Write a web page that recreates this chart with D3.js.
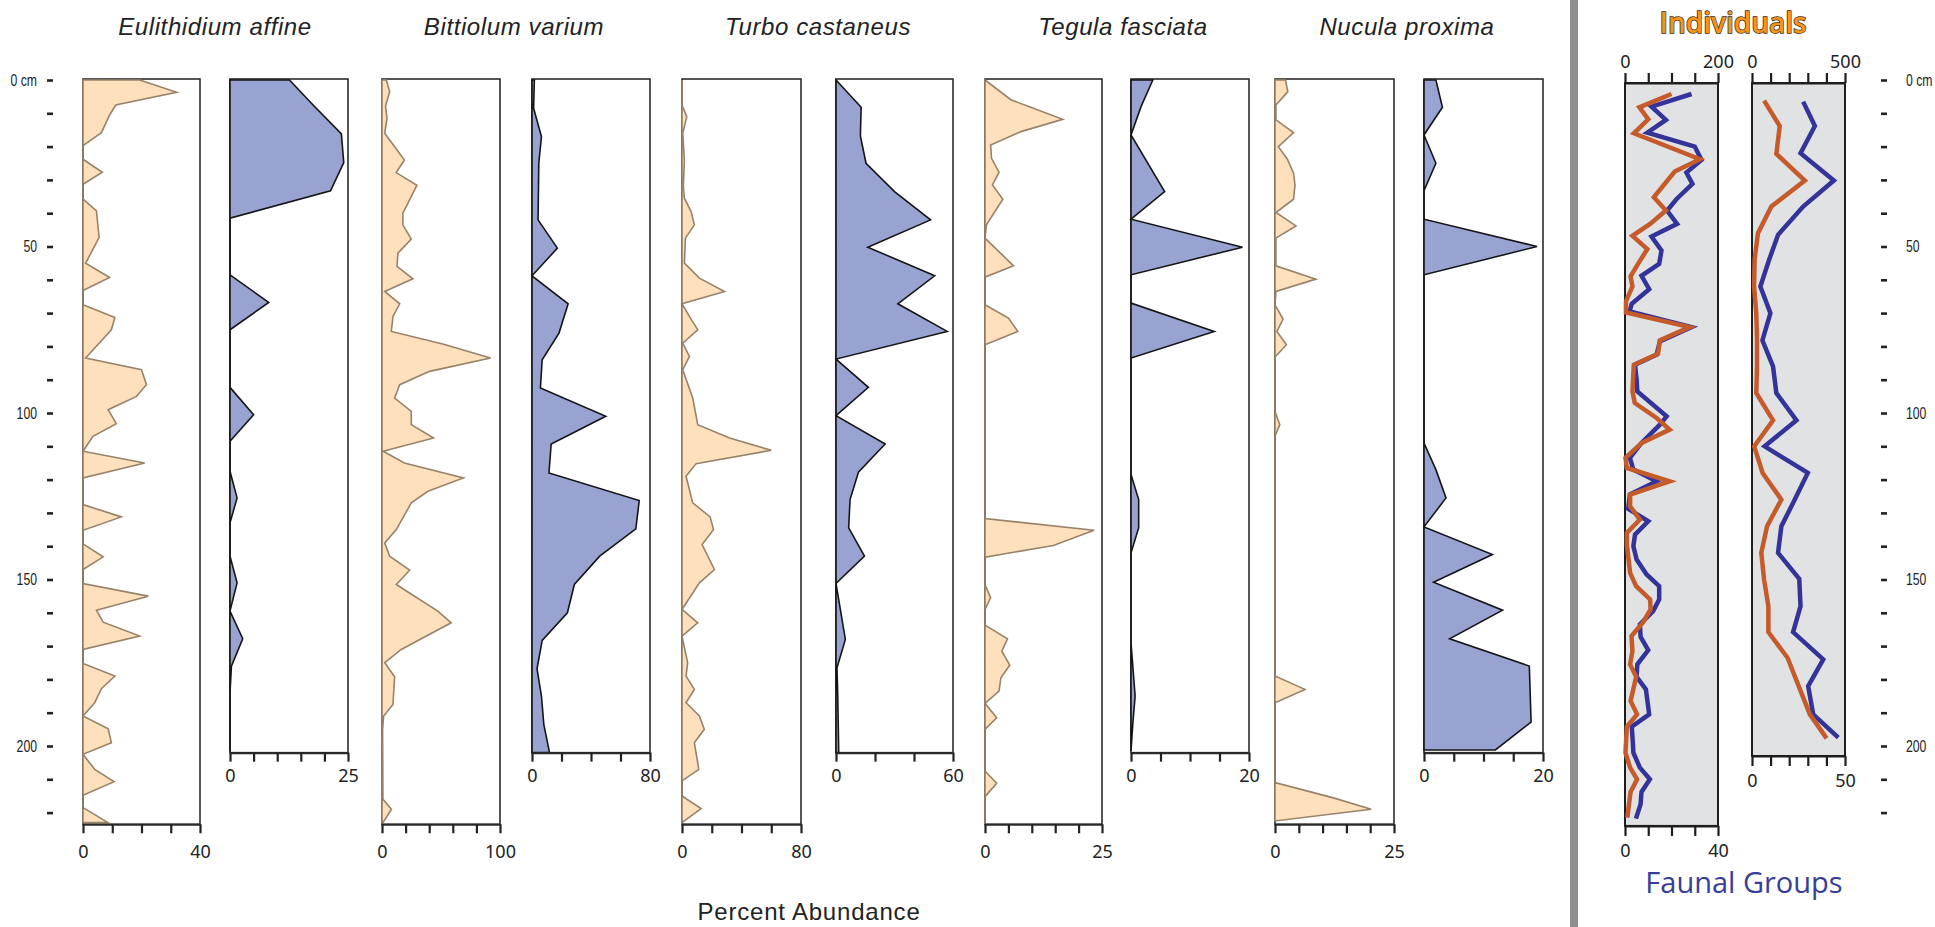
<!DOCTYPE html>
<html>
<head>
<meta charset="utf-8">
<script src="https://cdn.jsdelivr.net/npm/d3@7"></script>
<style>
  body { margin: 0; background: #fff; }
  svg { display: block; }
  .tick text { font-family: "Noto Sans", "Open Sans", sans-serif; font-size: 18px; fill: #222; }
  .depth .tick text { font-family: "Liberation Sans", Arial, sans-serif; font-size: 17px; }
</style>
</head>
<body>
<div id="chart"></div>
<script>
// depth (cm), value pairs
const eulOrange = [[0,19.4],[3.7,32],[7.5,11.2],[10.5,9.1],[15.8,6.3],[19.7,0],[23.8,0],[27.7,6.6],[31.3,0],[35.8,0],[39.3,4.6],[47.3,5.5],[55,0.9],[59.3,9.1],[63.2,0],[67.5,0],[71.3,10.9],[75,9.7],[83.5,0.9],[87,20],[91.5,21.7],[95,18.3],[99,8.6],[103.2,11.4],[107,3.4],[111.5,0],[115,21.1],[119.5,0],[127.5,0],[131.2,13.1],[135.2,0],[139.3,0],[143.2,6.9],[147,0],[151.2,0],[155,22.3],[159.2,4.6],[162.8,6.9],[167,19.4],[171,0],[175.2,0],[179,10.9],[182.8,6.3],[187,4],[191,0],[194.8,8.6],[199,9.7],[202.5,0],[207,4],[210.7,10.6],[214.8,0],[218.5,0],[223,8.6]];
const eulBlue = [[0,12.6],[7.5,17.6],[16.2,23.6],[24.8,24.1],[33.3,21.3],[41.5,0],[58.5,0],[66.8,8.2],[75,0],[92.3,0],[100.5,5],[108.5,0],[117.5,0],[125.5,1.5],[133,0],[143,0],[151,1.5],[159.5,0],[167.8,2.7],[176,0.3],[184,0],[201.7,0]];
const bitOrange = [[0,3.7],[3.5,6.5],[7.8,3],[11.5,4.2],[16,2.3],[24,19],[27.8,12],[31.6,29.6],[36,23.4],[40,17.7],[43.5,17.7],[47.8,24.8],[52,13.5],[56,12.7],[59.7,26.2],[63.5,2.3],[67.2,15],[71,9.3],[75.5,7.9],[79.3,51.5],[83.5,92],[87.5,40.3],[91.5,15],[95.5,10.7],[99.5,24.8],[103.5,24.8],[107.5,43.7],[111.5,1],[115,19],[119.5,69],[123.5,38.9],[127,24.8],[131.5,17.7],[135,12.1],[139,2.3],[143,6.5],[147.2,23.4],[151.5,12.1],[159.5,47.3],[163,58.6],[171,16.3],[175,2.3],[179.2,10.7],[187.5,9.3],[191,1.4],[195,0.5],[216,0.8],[219,8],[223,0.8]];
const bitBlue = [[0,1.6],[8.5,1.1],[17,6.4],[25,4.6],[42,4.1],[50.5,17.2],[58.8,0],[67.2,24.5],[76,18.3],[84,6.9],[92.5,5.7],[101,50],[109.3,13],[118,11.5],[126.3,72.7],[134.8,70.4],[143,45.9],[151.5,28.7],[160,24],[168.3,6.9],[176.8,3.4],[185,6.4],[193.5,8],[202,11.9]];
const turOrange = [[0,0],[7.5,0],[11,3.2],[16,0.5],[24,1.6],[32,0.9],[35.5,1.6],[39.5,6.1],[43.5,8.3],[47.5,2.3],[55,1.6],[59.5,11.7],[63.5,28.6],[67.2,0],[71,5],[75,10.6],[79,0.5],[83,5],[87,0.5],[95.5,7.2],[103.5,10.6],[107.5,32],[111.2,60],[115.2,9.5],[119,2.7],[127,7.2],[131.2,18.9],[135,21.2],[139.5,13.5],[147,21.8],[151,11.7],[159,0],[163,10.6],[167,0],[175,3.8],[179,2.7],[183,8.3],[187,2.7],[191,11.7],[195,15],[199,8.3],[207,11.3],[210.5,0],[215,0],[218.8,12.8],[223,0]];
const turBlue = [[0,0],[8.2,12.9],[16.8,12.5],[25,15.4],[33.5,30],[42,48.5],[50.2,16.3],[58.8,50.6],[67.2,31.7],[75.5,57],[83.8,0],[92.3,16.6],[100.8,0],[109.3,25.2],[117.8,11.5],[126,7.2],[134.5,6.5],[143,14.6],[151.2,0],[168,4.8],[176.5,0.5],[185,0.9],[202,1.4]];
const tegOrange = [[0,0],[6,5.6],[8,9.5],[11.8,16.6],[15.5,7.7],[19.5,1.2],[23.5,1.4],[27.7,3],[31.5,1.6],[35.8,3.8],[43.5,0.3],[47.5,0],[55.8,6.1],[59.2,0],[67.5,0],[71.5,5],[75.5,7],[79.5,0],[131.7,0],[135.2,23.3],[139.8,14.6],[143.3,0],[151.5,0],[155.5,1.2],[159,0],[163.7,0],[167.8,4.8],[171.5,3.6],[175.7,5.3],[179.5,3.4],[183.5,3],[187.2,0],[191.5,2.5],[195,0],[207.5,0],[211.2,2.5],[215.2,0],[223.5,0]];
const tegBlue = [[0,3.7],[8,1.7],[16.5,0],[33.5,5.7],[41.8,0],[50.2,18.9],[58.5,0],[67,0],[75.5,14.1],[83.5,0],[118.5,0],[126,1.3],[134.5,1.3],[142,0],[169,0],[185,0.7],[193.5,0.3],[201.5,0]];
const nucOrange = [[0,2.2],[3.5,2.7],[7.5,0.2],[12,0.2],[15.8,3.9],[20,0.7],[23.8,2.6],[28,3.9],[31.5,4.2],[35.8,3.9],[39.8,0.2],[43.8,4.4],[47.5,0.2],[55.8,0.2],[59.8,8.6],[63.5,0.2],[67.5,0],[71.8,1.7],[75.5,0.4],[79.5,2.4],[83.2,0],[99.5,0],[103.5,1],[107,0],[179,0],[183,6.3],[187,0],[211,0],[215.5,12.1],[219,20.2],[222.5,0]];
const nucBlue = [[0,2],[8.2,3.1],[16.5,0],[25,2],[33.2,0],[41.8,0],[50,19],[58.5,0],[109,0],[117,2],[125.5,3.7],[134.2,0],[142.5,11.5],[150.8,1.6],[159.2,13.2],[167.8,4.3],[176,17.7],[192.8,18],[201.2,12]];

// right-hand panels: individuals (orange, top axis) and faunal groups (blue, bottom axis)
const individualsA = [[4.2,100],[8.2,31],[11.8,50],[16,19],[23.8,161],[27.5,107],[35.2,62],[39.2,88],[43.2,54],[46.8,16],[50.8,48],[55,29],[59,12],[62,16],[66.5,2],[69.8,2],[74.2,139],[78.2,75],[82.2,71],[85.5,19],[93.5,16],[97,21],[101.5,68],[105,96],[109,36],[113.5,1],[116.5,4],[120.5,96],[124.5,11],[128,11],[132,32],[136,4],[139.5,4],[148,11],[152,24],[156,54],[159,55],[162.8,39],[167,14],[171.5,16],[175.5,11],[179.2,24],[186.5,12],[190.5,26],[194.2,4],[202,1],[206.5,11],[210,26],[213.8,12],[221.5,5]];
const faunalA = [[4.2,28.6],[8,11.4],[12,17.6],[15.8,9.6],[20,30],[24,32.9],[27.8,26.4],[31.2,29],[35.8,22.1],[39.2,18.1],[43.2,22.4],[47,11.4],[51.2,15.7],[55.2,14.7],[58.8,7.1],[62.8,10.4],[67.2,2.9],[69.5,2],[74.2,28.6],[78.5,15],[82.5,13.6],[85.5,4.3],[90,5],[93.5,5.3],[101,17.9],[103.5,15],[109,7.1],[113.5,2.1],[117,3.6],[120.5,13.6],[124.5,2.1],[128.8,1.4],[132.5,10],[136.5,4.3],[140,3.6],[144,5],[148.5,9.3],[152,14.7],[156,14.7],[159.5,12.1],[163.5,6.4],[167.2,6.7],[171.2,10],[175.5,5.3],[179.2,5],[183,9],[190.5,10.4],[194.2,2.9],[198.2,3.3],[202,3.6],[206.5,6.4],[210,10.7],[213.8,7.1],[217.5,6.7],[221.8,4.7]];
const individualsB = [[6.2,65],[13.8,149],[22.2,131],[30.2,284],[38,104],[46,32],[54,14],[62,11],[70,23],[78,27],[86,27],[94,23],[102.2,113],[110,12],[118,57],[126,158],[134,81],[142,50],[150,65],[158,88],[165.8,88],[173.5,191],[190.5,311],[197.7,401]];
const faunalB = [[6.5,27.5],[13.8,33.8],[22,26.1],[30.2,44],[38,27.5],[46.5,14],[54,9.2],[62,4.5],[70,9.9],[78.2,5.6],[86,11.3],[94,13.1],[102.2,23.9],[110,6.8],[118,30],[126,23],[134,15.8],[142,14],[149.8,25.4],[158,26.1],[165.8,22.1],[174,38.3],[182,30.2],[190.5,32.9],[197.5,46.4]];

const species = ["Eulithidium affine", "Bittiolum varium", "Turbo castaneus", "Tegula fasciata", "Nucula proxima"];
const depthTicks = d3.range(0, 221, 10);
const depthLabels = [0, 50, 100, 150, 200];

const W = 1935, H = 927;
const svg = d3.select("#chart").append("svg").attr("width", W).attr("height", H);
const depthY = d3.scaleLinear().domain([0, 200]).range([80, 746]);

const ORANGE = { fill: "#fee0bd", stroke: "#98826a" };
const BLUE = { fill: "#98a3d1", stroke: "#151515" };

const layout = [
    { cx: 215, o: { x: 83, w: 117, max: 40, step: 10, data: eulOrange }, b: { x: 230, w: 118, max: 25, step: 5, data: eulBlue } },
    { cx: 514, o: { x: 382, w: 118, max: 100, step: 20, data: bitOrange }, b: { x: 532, w: 118, max: 80, step: 20, data: bitBlue } },
    { cx: 818, o: { x: 682, w: 119, max: 80, step: 20, data: turOrange }, b: { x: 836, w: 117, max: 60, step: 20, data: turBlue } },
    { cx: 1123, o: { x: 985, w: 117, max: 25, step: 5, data: tegOrange }, b: { x: 1131, w: 118, max: 20, step: 5, data: tegBlue } },
    { cx: 1407, o: { x: 1275, w: 119, max: 25, step: 5, data: nucOrange }, b: { x: 1424, w: 119, max: 20, step: 5, data: nucBlue } }
];

function endsOnly(max) {
    return v => (v === 0 || v === max) ? v : "";
}

function drawPanel(p, maxDepth, col, pad) {
    const g = svg.append("g");
    const x = d3.scaleLinear().domain([0, p.max]).range([p.x, p.x + p.w]);
    const top = depthY(0) - 1, bottom = depthY(maxDepth);
    g.append("rect")
        .attr("x", p.x).attr("y", top)
        .attr("width", p.w).attr("height", bottom - top)
        .attr("fill", "#fff").attr("stroke", "#2b2b2b").attr("stroke-width", 1.6);
    const area = d3.area()
        .x0(x(0))
        .x1(d => x(d[1]))
        .y(d => depthY(d[0]));
    g.append("path")
        .datum(p.data)
        .attr("d", area)
        .attr("fill", col.fill)
        .attr("stroke", col.stroke)
        .attr("stroke-width", 1.6)
        .attr("stroke-linejoin", "miter");
    const ax = g.append("g")
        .attr("transform", `translate(0,${bottom})`)
        .call(d3.axisBottom(x)
            .tickValues(d3.range(0, p.max + p.step / 2, p.step))
            .tickSize(9).tickSizeOuter(0).tickPadding(pad)
            .tickFormat(endsOnly(p.max)));
    ax.select(".domain").attr("stroke", "#2b2b2b").attr("stroke-width", 2);
    ax.selectAll(".tick line").attr("stroke", "#222").attr("stroke-width", 2.2);
}

layout.forEach((s, i) => {
    drawPanel(s.o, 223.5, ORANGE, 12);
    drawPanel(s.b, 202, BLUE, 8);
    svg.append("text")
        .attr("x", s.cx).attr("y", 35)
        .attr("text-anchor", "middle")
        .attr("font-family", "Liberation Sans, Arial, sans-serif")
        .attr("font-style", "italic")
        .attr("font-size", 24)
        .attr("letter-spacing", 0.6)
        .attr("fill", "#222")
        .text(species[i]);
});

// depth axes, labels squeezed to a condensed look
function depthAxis(axis, tx) {
    const g = svg.append("g").attr("class", "depth")
        .attr("transform", `translate(${tx},0)`)
        .call(axis.tickValues(depthTicks).tickSize(6)
            .tickFormat(d => depthLabels.includes(d) ? (d === 0 ? "0 cm" : d) : ""));
    g.select(".domain").remove();
    g.selectAll(".tick line").attr("stroke", "#222").attr("stroke-width", 2.6);
    g.selectAll(".tick text").each(function () {
        const t = d3.select(this);
        const x = +t.attr("x");
        t.attr("x", 0).attr("transform", `translate(${x},0) scale(0.72,1)`);
    });
}
depthAxis(d3.axisLeft(depthY).tickPadding(10), 53);
depthAxis(d3.axisRight(depthY).tickPadding(19), 1881);

svg.append("text")
    .attr("x", 809).attr("y", 920)
    .attr("text-anchor", "middle")
    .attr("font-family", "Liberation Sans, Arial, sans-serif")
    .attr("font-size", 24)
    .attr("letter-spacing", 0.8)
    .attr("fill", "#222")
    .text("Percent Abundance");

// separator
svg.append("rect").attr("x", 1570).attr("y", 0).attr("width", 8).attr("height", H).attr("fill", "#8e8f93");

// right-hand panels
const rightPanels = [
    { x: 1625, w: 93, maxDepth: 224, ind: individualsA, indMax: 200, indStep: 50, fau: faunalA, fauMax: 40, fauStep: 10 },
    { x: 1752, w: 93, maxDepth: 203, ind: individualsB, indMax: 500, indStep: 100, fau: faunalB, fauMax: 50, fauStep: 10 }
];

rightPanels.forEach(p => {
    const g = svg.append("g");
    const xi = d3.scaleLinear().domain([0, p.indMax]).range([p.x, p.x + p.w]);
    const xf = d3.scaleLinear().domain([0, p.fauMax]).range([p.x, p.x + p.w]);
    const top = depthY(0) + 3, bottom = depthY(p.maxDepth);
    g.append("rect")
        .attr("x", p.x).attr("y", top)
        .attr("width", p.w).attr("height", bottom - top)
        .attr("fill", "#e1e2e4").attr("stroke", "#1e1e1e").attr("stroke-width", 2);
    g.append("path")
        .datum(p.fau)
        .attr("d", d3.line().x(d => xf(d[1])).y(d => depthY(d[0])))
        .attr("fill", "none").attr("stroke", "#333399").attr("stroke-width", 4.5);
    g.append("path")
        .datum(p.ind)
        .attr("d", d3.line().x(d => xi(d[1])).y(d => depthY(d[0])))
        .attr("fill", "none").attr("stroke", "#c55a2b").attr("stroke-width", 4.5);
    const at = g.append("g").attr("transform", `translate(0,${top})`)
        .call(d3.axisTop(xi).tickValues(d3.range(0, p.indMax + 1, p.indStep))
            .tickSize(10).tickSizeOuter(0).tickPadding(5).tickFormat(endsOnly(p.indMax)));
    const ab = g.append("g").attr("transform", `translate(0,${bottom})`)
        .call(d3.axisBottom(xf).tickValues(d3.range(0, p.fauMax + 1, p.fauStep))
            .tickSize(10).tickSizeOuter(0).tickPadding(8).tickFormat(endsOnly(p.fauMax)));
    [at, ab].forEach(a => {
        a.select(".domain").attr("stroke", "#1e1e1e").attr("stroke-width", 2);
        a.selectAll(".tick line").attr("stroke", "#1e1e1e").attr("stroke-width", 2.2);
    });
});

svg.append("text")
    .attr("x", 1733).attr("y", 33)
    .attr("text-anchor", "middle")
    .attr("font-family", "Open Sans, Noto Sans, sans-serif")
    .attr("font-size", 28)
    .attr("font-weight", 600)
    .attr("fill", "#f7941d")
    .attr("stroke", "#3c2a14")
    .attr("stroke-width", 1.4)
    .attr("paint-order", "stroke")
    .text("Individuals");

svg.append("text")
    .attr("x", 1744).attr("y", 893)
    .attr("text-anchor", "middle")
    .attr("font-family", "Open Sans, Noto Sans, sans-serif")
    .attr("font-size", 29)
    .attr("fill", "#383d9a")
    .text("Faunal Groups");
</script>
</body>
</html>
